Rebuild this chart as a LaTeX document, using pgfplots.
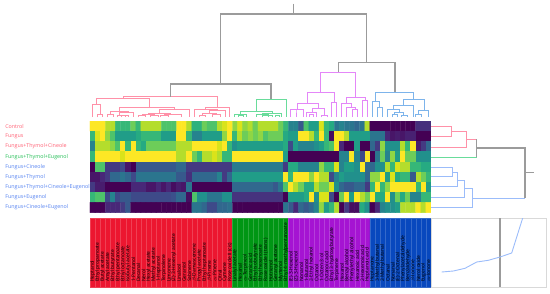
\documentclass[border=0pt]{standalone}
\usepackage{pgfplots}
\usepackage{fontspec}
\setmainfont{Open Sans}
\pgfplotsset{compat=1.18}
\definecolor{lr}{RGB}{255,95,115}
\definecolor{lg}{RGB}{35,190,85}
\definecolor{lb}{RGB}{85,130,240}
\definecolor{tr}{RGB}{255,145,168}
\definecolor{tg}{RGB}{105,220,155}
\definecolor{tp}{RGB}{228,135,248}
\definecolor{tb}{RGB}{125,180,235}
\definecolor{tb2}{RGB}{155,188,250}
\definecolor{tk}{RGB}{155,155,155}
\definecolor{sr}{RGB}{236,22,48}
\definecolor{sg}{RGB}{0,150,20}
\definecolor{sp}{RGB}{165,20,210}
\definecolor{sb}{RGB}{8,72,190}
\begin{document}
\begin{tikzpicture}
\useasboundingbox (0,-293pt) rectangle (550pt,0);
% ---- dendrograms, in image pixels
\begin{axis}[at={(0,0)},anchor=north west,scale only axis,width=550pt,height=293pt,
  xmin=0,xmax=550,ymin=0,ymax=293,y dir=reverse,hide axis,unbounded coords=jump,clip=false]
\addplot[tr,line width=0.85pt,no markers] coordinates {
(92.5,117)(92.5,104.3)(100,104.3)(100,114.7)(nan,nan)
(97.7,117)(97.7,114.7)(102.3,114.7)(102.3,117)(nan,nan)
(96.3,104.3)(96.3,98)(149.7,98)(149.7,107.3)(nan,nan)
(123.3,98)(123.3,96.7)(217.3,96.7)(217.3,107)(nan,nan)
(205.7,109.3)(205.7,107)(229,107)(229,117)(nan,nan)
(194,117)(194,109.3)(217.3,109.3)(217.3,110.5)(nan,nan)
(209,113)(209,110.5)(225.6,110.5)(225.6,117)(nan,nan)
(202,115.5)(202,113)(216,113)(216,114.5)(nan,nan)
(199,117)(199,115.5)(205,115.5)(205,117)(nan,nan)
(212,117)(212,114.5)(220,114.5)(220,117)(nan,nan)
(119.3,111)(119.3,107.3)(174,107.3)(174,109)(nan,nan)
(110,114)(110,111)(128.7,111)(128.7,112)(nan,nan)
(107.7,117)(107.7,114)(113,114)(113,117)(nan,nan)
(119,115)(119,112)(133.3,112)(133.3,117)(nan,nan)
(117.7,117)(117.7,115)(125,115)(125,117)(nan,nan)
(121,117)(121,115.5)(128,115.5)(128,117)(nan,nan)
(159,113.8)(159,109)(189.3,109)(189.3,117)(nan,nan)
(148,114.5)(148,113.8)(170,113.8)(170,114.5)(nan,nan)
(142,115.5)(142,114.5)(154,114.5)(154,115.5)(nan,nan)
(138.5,117)(138.5,115.5)(145.5,115.5)(145.5,117)(nan,nan)
(150,117)(150,115.5)(158,115.5)(158,117)(nan,nan)
(164,115.5)(164,114.5)(181,114.5)(181,117)(nan,nan)
(160.5,117)(160.5,115.5)(168,115.5)(168,117)(nan,nan)
};
\addplot[tg,line width=0.85pt,no markers] coordinates {
(256.3,111.3)(256.3,99)(286,99)(286,117)(nan,nan)
(240.3,114.5)(240.3,111.3)(272.3,111.3)(272.3,113)(nan,nan)
(234.7,117)(234.7,114.5)(246,114.5)(246,117)(nan,nan)
(238,117)(238,115.5)(243,115.5)(243,117)(nan,nan)
(262,114.3)(262,113)(281,113)(281,117)(nan,nan)
(256,117)(256,114.3)(268,114.3)(268,117)(nan,nan)
(262,117)(262,115.5)(272,115.5)(272,117)(nan,nan)
(275,117)(275,115.5)(279,115.5)(279,117)(nan,nan)
};
\addplot[tp,line width=0.85pt,no markers] coordinates {
(320.7,92.3)(320.7,72)(355.7,72)(355.7,97)(nan,nan)
(307.7,103.7)(307.7,92.3)(334,92.3)(334,102.3)(nan,nan)
(297,109)(297,103.7)(318.3,103.7)(318.3,108)(nan,nan)
(290.7,117)(290.7,109)(303,109)(303,117)(nan,nan)
(296,117)(296,109)(296,109)(296,117)(nan,nan)
(312.3,112.7)(312.3,108)(324,108)(324,115)(nan,nan)
(306,117)(306,112.7)(316,112.7)(316,117)(nan,nan)
(309,117)(309,114)(313,114)(313,117)(nan,nan)
(321.3,117)(321.3,115)(327,115)(327,117)(nan,nan)
(331.7,117)(331.7,102.3)(336.7,102.3)(336.7,117)(nan,nan)
(346,103.3)(346,97)(365,97)(365,100.7)(nan,nan)
(341.3,117)(341.3,103.3)(351,103.3)(351,107.3)(nan,nan)
(346,117)(346,107.3)(355,107.3)(355,109)(nan,nan)
(352,117)(352,109)(357,109)(357,117)(nan,nan)
(362,117)(362,100.7)(367,100.7)(367,117)(nan,nan)
};
\addplot[tb,line width=0.85pt,no markers] coordinates {
(375.7,101.7)(375.7,92.3)(413.7,92.3)(413.7,99.7)(nan,nan)
(372.7,117)(372.7,101.7)(379.7,101.7)(379.7,107.7)(nan,nan)
(377.3,117)(377.3,107.7)(382,107.7)(382,117)(nan,nan)
(403.7,105.3)(403.7,99.7)(424,99.7)(424,110.7)(nan,nan)
(393.3,109.7)(393.3,105.3)(413,105.3)(413,117)(nan,nan)
(387,117)(387,109.7)(399,109.7)(399,112)(nan,nan)
(394,114)(394,112)(403,112)(403,115)(nan,nan)
(392,117)(392,114)(397,114)(397,117)(nan,nan)
(401,117)(401,115)(407,115)(407,117)(nan,nan)
(418,114)(418,110.7)(428.7,110.7)(428.7,117)(nan,nan)
(415,117)(415,114)(421,114)(421,117)(nan,nan)
};
\addplot[tk,line width=1.1pt,no markers] coordinates {
(293.3,3.5)(293.3,14)(nan,nan)
(220.7,84)(220.7,14)(366.7,14)(366.7,62.5)(nan,nan)
(170.3,96.7)(170.3,84)(271,84)(271,99)(nan,nan)
(338.3,72)(338.3,62.5)(395,62.5)(395,92.3)(nan,nan)
};
% right-hand tree
\addplot[tr,line width=0.85pt,no markers] coordinates {
(431,126.7)(451.7,126.7)(451.7,136.3)(431,136.3)(nan,nan)
(451.7,131.7)(466.7,131.7)(466.7,147)(431,147)(nan,nan)
(466.7,139.3)(476.7,139.3)(nan,nan)
};
\addplot[tg,line width=0.85pt,no markers] coordinates {(431,157)(476.7,157)};
\addplot[tb2,line width=0.85pt,no markers] coordinates {
(431,167)(452.7,167)(452.7,176.7)(431,176.7)(nan,nan)
(452.7,172.7)(457.3,172.7)(457.3,186.7)(431,186.7)(nan,nan)
(457.3,180)(464.7,180)(464.7,197.7)(431,197.7)(nan,nan)
(464.7,188.3)(472,188.3)(472,207.7)(431,207.7)(nan,nan)
(472,198.3)(525,198.3)(nan,nan)
};
\addplot[tk,line width=1.1pt,no markers] coordinates {
(476.7,139.3)(476.7,157)(nan,nan)
(476.7,148)(525,148)(525,198.3)(nan,nan)
(525,172.7)(534.3,172.7)(nan,nan)
};
\end{axis}
% ---- heat map
\begin{axis}[at={(90pt,-121pt)},anchor=north west,scale only axis,width=341pt,height=91.6pt,
  xmin=0.5,xmax=67.5,ymin=0.5,ymax=9.5,y dir=reverse,axis line style={draw=none},
  colormap name=viridis,point meta min=0,point meta max=9,xtick=\empty,
  ytick={1,...,9},major tick length=0pt,
  yticklabel style={font=\fontsize{5.35}{6}\selectfont,text width=84.5pt,align=left,inner sep=0pt},
  yticklabels={{\textcolor{lr}{Control}},{\textcolor{lr}{Fungus}},{\textcolor{lr}{Fungus+Thymol+Cineole}},{\textcolor{lg}{Fungus+Thymol+Eugenol}},{\textcolor{lb}{Fungus+Cineole}},{\textcolor{lb}{Fungus+Thymol}},{\textcolor{lb}{Fungus+Thymol+Cineole+Eugenol}},{\textcolor{lb}{Fungus+Eugenol}},{\textcolor{lb}{Fungus+Cineole+Eugenol}}}]
\addplot[matrix plot*,mesh/cols=67,point meta=explicit] table[row sep=\\,header=false,
  x expr={mod(\coordindex,67)+1},y expr={floor((\coordindex+0.5)/67)+1},meta index=0]{
9\\9\\9\\8\\8\\6\\6\\6\\7\\6\\8\\8\\8\\8\\6.5\\6.5\\6.5\\9\\9\\8\\5.8\\5.8\\7\\6.5\\6.5\\8\\8.5\\9\\7.5\\8.5\\7.5\\8\\7\\8\\8\\8\\8\\7\\6\\4\\4\\2.5\\6.5\\5\\5\\8.5\\6\\5.5\\3.5\\4\\3.5\\3.5\\3\\3.5\\8\\0\\0\\0\\0\\0\\0\\0\\0\\0\\1.2\\1.2\\1.2\\
6\\8.5\\9\\7.5\\6.5\\5\\5\\5\\5\\5.5\\6\\6\\6\\6\\5\\5\\5\\9\\9\\6\\4\\4\\5\\5\\5\\5\\7.5\\9\\6\\8\\7\\7.5\\7\\7.5\\6.5\\7\\7\\7\\5.5\\5\\5\\9\\9\\8\\6\\9\\6\\0.3\\9\\9\\8\\5\\5\\5\\5\\3.5\\3.5\\3.5\\1\\0.5\\0.7\\0.5\\0.8\\0.8\\0\\0\\0\\
4\\8\\8\\8\\7.5\\6.5\\9\\6\\9\\6\\5.5\\7\\7\\7\\7\\7\\7\\8\\8\\8\\9\\9\\9\\9\\9\\8.5\\9\\6\\4.5\\5\\5\\5\\5\\5\\5\\5\\5\\5\\5.5\\2\\5\\4\\4\\4\\4.5\\5\\6\\6.5\\9\\1\\0\\0\\5\\0\\0\\3\\1.5\\7.5\\4.5\\4.5\\4.5\\8\\6\\9\\0.7\\1.5\\3\\
6\\9\\9\\9\\9\\9\\8.5\\9\\9\\9\\9\\9\\9\\9\\9\\9\\9\\8\\8\\9\\7\\6\\8\\8\\8.5\\8\\6\\6\\9\\9\\9\\9\\9\\9\\9\\9\\9\\9\\5\\0\\0\\0\\0\\0\\0\\0\\0\\0\\0\\4\\4\\9\\4\\2\\9\\0\\3.5\\7\\4\\7.5\\5\\9\\7\\7\\4.5\\4.5\\4.5\\
0\\6.5\\6.5\\1.5\\1.5\\1.5\\2\\0.5\\0\\2.5\\2.5\\2.5\\2.5\\2.5\\2.5\\2.5\\2.5\\3\\3\\1.5\\1.5\\1.5\\1.5\\1.5\\1.5\\1.5\\1.5\\1.5\\3.7\\3.7\\3.7\\3.7\\3.7\\3.7\\3.7\\3.7\\3.7\\3.7\\1.5\\5.5\\5.5\\4\\4\\4\\4\\7.5\\6\\6\\8.5\\4\\5\\5\\4.5\\9\\3\\3\\4.5\\4.5\\8\\6\\8.5\\8\\8\\6\\6\\5.5\\5.5\\
0.5\\0.5\\1\\1.5\\3\\3\\3.5\\3\\2\\3.5\\3.5\\3.5\\3.5\\3.5\\3.5\\3.5\\3.5\\2.5\\2.5\\1.2\\3\\3\\3\\3\\3\\4\\1.5\\3\\5\\5\\5\\5\\5\\5\\5\\5\\5\\5\\9\\6\\9\\9\\9\\7.5\\9\\8\\8\\2\\4\\5\\4.5\\4.5\\4.5\\4.5\\3\\7.5\\7.5\\9\\5\\8.5\\5.5\\6\\6\\2.5\\8\\7\\6\\
1.5\\0.7\\0.7\\0\\0\\0\\0\\0\\1\\1\\1\\0.5\\0.5\\1\\0.5\\1\\0.3\\0.7\\0.5\\3.5\\0\\0\\0\\0\\0\\0\\0\\0\\3\\3\\3\\3\\3\\3\\3\\3\\2.5\\3.5\\6.5\\9\\8\\7\\5.5\\5.5\\8\\7\\7\\8.5\\4.5\\3\\2.5\\2.5\\3\\3\\1.5\\6\\9\\6\\7.5\\9\\9\\9\\9\\9\\6\\9\\5\\
6\\6.5\\6.5\\2\\4\\2\\2.5\\2.5\\2\\2\\2\\2\\2\\2\\2\\2\\2.2\\3\\3\\0.3\\6.5\\4.5\\4.5\\3.5\\3.5\\3.5\\4.5\\4.5\\1.3\\1.3\\1.3\\1.3\\1.3\\1.3\\1.3\\1.3\\1.3\\1.3\\0\\5\\5\\5\\5.5\\9\\4.5\\8.5\\8.5\\2\\0\\7\\9\\5\\9\\8\\7\\9\\5.5\\5.5\\9\\4.5\\7\\5.5\\7\\4\\4\\6\\6\\
0\\0\\0\\1\\1\\1\\1.5\\2.5\\0\\0\\0\\0\\0\\0\\0\\0\\0\\0\\0\\0\\3.5\\3.5\\3\\2\\2\\3\\3\\3.3\\0\\0\\0\\0\\0\\0\\0\\0\\0\\0\\3.5\\2.5\\1\\3\\2.5\\3\\4\\7.5\\5\\6\\8\\0\\1.5\\0.3\\0.3\\5.5\\4.5\\0\\1\\4\\4.5\\4.5\\5\\8\\8\\8\\9\\8\\9\\
};
\end{axis}
% ---- colour strip with the compound names
\begin{axis}[at={(90pt,-218pt)},anchor=north west,scale only axis,width=341pt,height=69pt,axis on top,
  xmin=0.5,xmax=67.5,ymin=0,ymax=1,axis line style={draw=none},ytick=\empty,
  xtick={1,...,67},major tick length=0pt,
  xticklabel style={rotate=90,anchor=west,inner sep=0pt,xshift=5pt,font=\fontsize{4.9}{5}\selectfont,text=black},
  xticklabels={Heptanol,Ethyl propanoate,Butyl acetate,Amyl acetate,Ethyl butyrate,Ethyl pentanoate,Ethyl octanoate,Isobutyl acetate,1-Pentanol,Decanal,Nerol,Hexyl acetate,Methyl acetate,1-Heptanol,Terpinolene,Limonene,(Z)-3-Hexenyl acetate,Linalool,Geraniol,Sabinene,$\beta$-Damascenone,Propyl acetate,Ethyl heptanoate,$\beta$-Pinene,$\alpha$-Pinene,Citral,Cymene,Rose oxide II (cis),Linalyl acetate,Hexanal,$\alpha$-Terpineol,Geranic acid,Ethyl isobutyrate,Ethyl hexanoate,Rose oxide I (trans),Hotrienol,Geranyl acetone,Myrtenol,Ethyl 4-methylpentanoate,(E)-3-Hexenol,(Z)-3-Hexenol,Nonanol,1-Butanol,2-Ethyl hexanol,Octanol,1-Octen-3-ol,Octanoic acid,Ethyl 3-hydroxybutyrate,Terpinene,Hexanol,Benzyl alcohol,Phenylethyl alcohol,Hexanoic acid,2-Hexenoic acid,Heptanoic acid,Heptanone,3-Methylbutanal,2-Methylbutanal,Octanal,Nonanal,(E)-2-Octenal,Phenylacetaldehyde,Benzaldehyde,$\beta$-Ionone,Nerol oxide,Eugenol,$\alpha$-Ionone}]
\addplot[ybar,bar width=5.09pt,bar shift=0pt,fill=sr,draw=sr!82!white,line width=0.25pt] coordinates {(1,1)(2,1)(3,1)(4,1)(5,1)(6,1)(7,1)(8,1)(9,1)(10,1)(11,1)(12,1)(13,1)(14,1)(15,1)(16,1)(17,1)(18,1)(19,1)(20,1)(21,1)(22,1)(23,1)(24,1)(25,1)(26,1)(27,1)(28,1)};
\addplot[ybar,bar width=5.09pt,bar shift=0pt,fill=sg,draw=sg!82!white,line width=0.25pt] coordinates {(29,1)(30,1)(31,1)(32,1)(33,1)(34,1)(35,1)(36,1)(37,1)(38,1)(39,1)};
\addplot[ybar,bar width=5.09pt,bar shift=0pt,fill=sp,draw=sp!82!white,line width=0.25pt] coordinates {(40,1)(41,1)(42,1)(43,1)(44,1)(45,1)(46,1)(47,1)(48,1)(49,1)(50,1)(51,1)(52,1)(53,1)(54,1)(55,1)};
\addplot[ybar,bar width=5.09pt,bar shift=0pt,fill=sb,draw=sb!82!white,line width=0.25pt] coordinates {(56,1)(57,1)(58,1)(59,1)(60,1)(61,1)(62,1)(63,1)(64,1)(65,1)(66,1)(67,1)};
\end{axis}
% ---- scree panel
\begin{axis}[at={(431pt,-218pt)},anchor=north west,scale only axis,width=115pt,height=69pt,
  xmin=431,xmax=546,ymin=218,ymax=287,y dir=reverse,xtick=\empty,ytick=\empty,
  axis line style={draw=black!15,line width=0.7pt}]
\addplot[tk,line width=1.1pt,no markers] coordinates {(500,218)(500,287)};
\addplot[tb2,line width=0.9pt,no markers] coordinates {(441.7,272)(453.3,271)(465,268.3)(476.7,262)(488.3,260.3)(500,257)(511.7,253)(522.7,218)};
\end{axis}
\end{tikzpicture}
\end{document}
